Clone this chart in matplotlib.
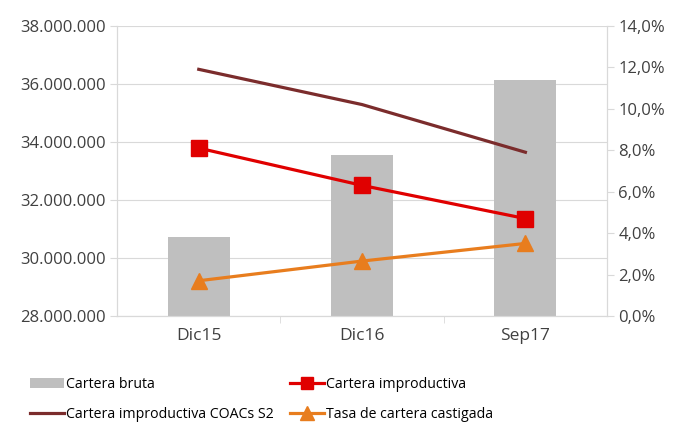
import numpy as np
import matplotlib.pyplot as plt
from matplotlib.ticker import FuncFormatter, FixedLocator

periodos = ["Dic15", "Dic16", "Sep17"]
cartera_bruta = [30720000, 33550000, 36140000]
improductiva_coacs = [11.9, 10.2, 7.9]
improductiva = [8.1, 6.3, 4.7]
castigada = [1.7, 2.65, 3.5]

plt.rcParams['font.family'] = ['Open Sans', 'DejaVu Sans']
plt.rcParams['font.size'] = 12

fig = plt.figure(figsize=(6.73, 4.23), dpi=100)
ax = fig.add_axes([0.174, 0.253, 0.728, 0.686])
ax2 = ax.twinx()

x = np.arange(len(periodos))
bars = ax.bar(x, cartera_bruta, width=0.38, color="#bfbfbf", label="Cartera bruta", zorder=2)
ax.set_ylim(28000000, 38000000)
ax.set_yticks(np.arange(28000000, 38000001, 2000000))
ax.yaxis.set_major_formatter(FuncFormatter(lambda v, p: f"{int(v):,}".replace(",", ".")))
ax.set_xlim(-0.5, 2.5)
ax.set_xticks(x)
ax.set_xticklabels(periodos, fontsize=12.5)
ax.xaxis.set_minor_locator(FixedLocator([0.5, 1.5]))
ax.tick_params(axis="x", which="major", length=0, pad=9, labelcolor="#404040")
ax.tick_params(axis="x", which="minor", length=5, color="#d9d9d9")
ax.tick_params(axis="y", length=5, color="#d9d9d9", labelcolor="#404040", pad=3)
ax.grid(axis="y", color="#d9d9d9", lw=0.8, zorder=0)
ax.set_axisbelow(True)

l1, = ax2.plot(x, improductiva_coacs, color="#7b2c2c", lw=2.3, label="Cartera improductiva COACs S2")
l2, = ax2.plot(x, improductiva, color="#e00000", lw=2.3, marker="s", markersize=11, label="Cartera improductiva")
l3, = ax2.plot(x, castigada, color="#e87d1e", lw=2.3, marker="^", markersize=12, label="Tasa de cartera castigada")
ax2.set_ylim(0, 14)
ax2.set_yticks(np.arange(0, 14.1, 2))
ax2.yaxis.set_major_formatter(FuncFormatter(lambda v, p: f"{v:.1f}%".replace(".", ",")))
ax2.tick_params(axis="y", length=5, color="#d9d9d9", labelcolor="#404040", pad=3)

for a in (ax, ax2):
    a.spines["top"].set_visible(False)
    a.spines["left"].set_color("#d9d9d9")
    a.spines["right"].set_color("#d9d9d9")
    a.spines["bottom"].set_color("#d9d9d9")

fig.legend([bars, l1, l2, l3],
           ["Cartera bruta", "Cartera improductiva COACs S2", "Cartera improductiva", "Tasa de cartera castigada"],
           loc="lower left", bbox_to_anchor=(0.03, -0.02), ncol=2, frameon=False,
           fontsize=10.2, handlelength=2.4, handletextpad=0.15, columnspacing=1.1,
           labelspacing=1.0, markerscale=0.85, borderpad=0.2)

fig.savefig("out.png", dpi=100)
